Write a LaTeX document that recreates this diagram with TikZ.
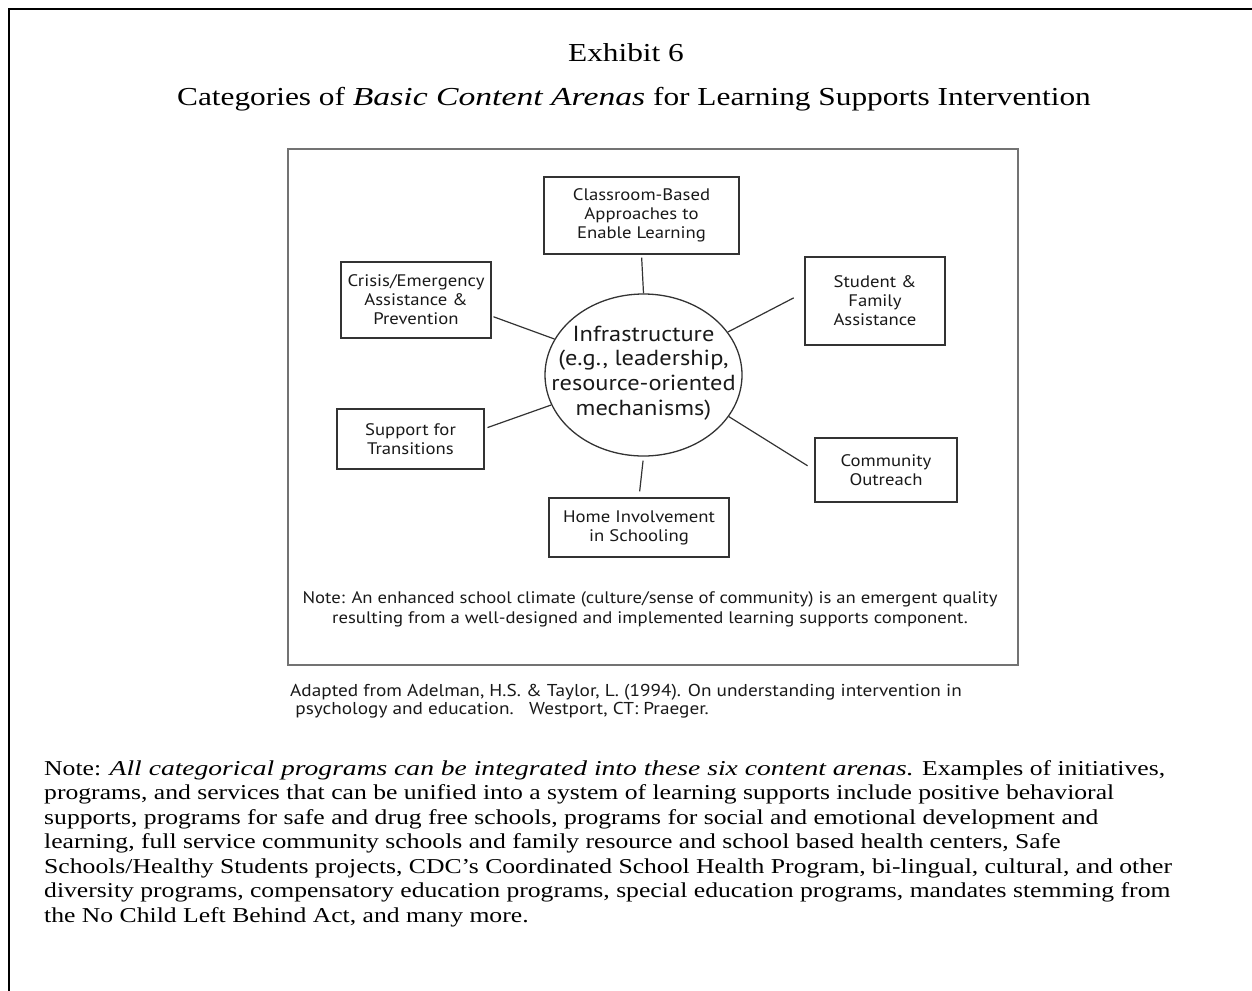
\documentclass[tikz,border=0pt]{standalone}
\usepackage{fontspec}
\setmainfont{Liberation Serif}[FakeStretch=1.21, ItalicFeatures={FakeStretch=1.30}]
\newfontfamily\diagfont{PT Sans}[FakeStretch=1.12]
\usetikzlibrary{shapes.geometric}

\begin{document}
\begin{tikzpicture}[x=1pt,y=-1pt,
  arena/.style={draw=black!80, line width=1.3pt, rectangle, inner sep=0pt,
    font=\diagfont\fontsize{16.7}{19}\selectfont, align=center, text=black!90},
  hub/.style={draw=black!80, line width=1.3pt, ellipse, inner sep=0pt},
  hubtext/.style={font=\diagfont\fontsize{21.8}{24.7}\selectfont, align=center,
    text=black!90, inner sep=0pt},
  link/.style={draw=black!80, line width=1.2pt},
  panel/.style={draw=black!55, line width=1.8pt, rectangle, inner sep=0pt},
  heading/.style={font=\fontsize{25.9}{30}\selectfont, inner sep=0pt},
]
\useasboundingbox (0,0) rectangle (1252,990);

% page frame, running off the right and bottom edges
\draw[line width=2.2pt] (9,1010) -- (9,9) -- (1270,9);

% headings
\node[heading] (exhibit) at (626,53) {Exhibit 6};
\node[heading] (title) at (634,99) {Categories of \textit{Basic Content Arenas} for Learning Supports Intervention};

% figure panel
\node[panel, minimum width=730pt, minimum height=516pt] (fig) at (653,407) {};

% central hub
\node[hub, minimum width=197pt, minimum height=162pt] (infra) at (643.5,375) {};
\node[hubtext] (infratext) at (643.5,373)
  {Infrastructure\\(e.g., leadership,\\resource-oriented\\mechanisms)};

% six content arenas
\node[arena, minimum width=195pt, minimum height=77pt] (classroom) at (641.5,215.5)
  {Classroom-Based\\Approaches to\\Enable Learning};
\node[arena, minimum width=150pt, minimum height=76pt] (crisis) at (416,300)
  {Crisis/Emergency\\Assistance \&\\Prevention};
\node[arena, minimum width=140pt, minimum height=88pt] (student) at (875,301)
  {Student \&\\Family\\Assistance};
\node[arena, minimum width=142pt, minimum height=64pt] (community) at (886,470)
  {Community\\Outreach};
\node[arena, minimum width=147pt, minimum height=60pt] (support) at (410.5,439)
  {Support for\\Transitions};
\node[arena, minimum width=180pt, minimum height=59pt] (home) at (639,527.5)
  {Home Involvement\\in Schooling};

% spokes
\draw[link, shorten <=3pt] (classroom.south) -- (infra.north);
\draw[link, shorten <=2pt] (crisis.-12) -- (infra.158.5);
\draw[link, shorten >=12pt] (infra.27) -- (student.173);
\draw[link, shorten >=8pt] (infra.-26) -- (community.west);
\draw[link, shorten <=3pt] (support.8) -- (infra.198.5);
\draw[link, shorten <=4pt, shorten >=6pt] (infra.south) -- (home.north);

% note inside the panel
\node[font=\diagfont\fontsize{16.7}{20}\selectfont, align=center, text=black!90, inner sep=0pt]
  (climate) at (650,609)
  {Note: An enhanced school climate (culture/sense of community) is an emergent quality\\
   resulting from a well-designed and implemented learning supports component.};

% source
\node[font=\diagfont\fontsize{17.2}{18}\selectfont, align=left, text=black!90, inner sep=0pt, anchor=west]
  (source) at (290,701)
  {Adapted from Adelman, H.S. \& Taylor, L. (1994). On understanding intervention in\\
   \ psychology and education.\ \ \ Westport, CT: Praeger.};

% closing paragraph
\node[font=\fontsize{21.2}{24.5}\selectfont, align=left, inner sep=0pt, anchor=north west]
  (para) at (44,760)
  {Note: \textit{All categorical programs can be integrated into these six content arenas.} Examples of initiatives,\\
   programs, and services that can be unified into a system of learning supports include positive behavioral\\
   supports, programs for safe and drug free schools, programs for social and emotional development and\\
   learning, full service community schools and family resource and school based health centers, Safe\\
   Schools/Healthy Students projects, CDC’s Coordinated School Health Program, bi-lingual, cultural, and other\\
   diversity programs, compensatory education programs, special education programs, mandates stemming from\\
   the No Child Left Behind Act, and many more.};
\end{tikzpicture}
\end{document}
